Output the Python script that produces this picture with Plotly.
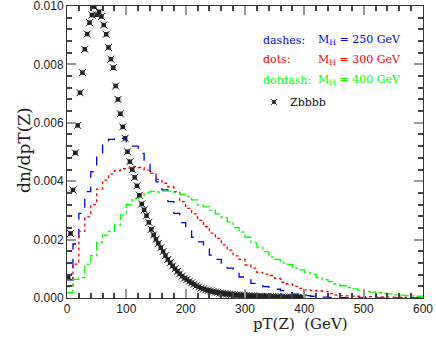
import numpy as np
import plotly.graph_objects as go

# histogram bins (10 GeV) for the Higgs curves, 0..600
hist_edges = np.arange(0, 610, 10)

# dashes: M_H = 250 GeV
mh250 = [0.00062, 0.00185, 0.0029, 0.00364, 0.00432, 0.0049, 0.0053, 0.00543, 0.0055, 0.00547,
         0.00535, 0.0052, 0.00495, 0.00463, 0.00433, 0.00398, 0.0037, 0.0033, 0.0029, 0.00258,
         0.00233, 0.00208, 0.00192, 0.00172, 0.00147, 0.00132, 0.00115, 0.00102, 0.00087, 0.00072,
         0.00062, 0.0005, 0.00043, 0.00039, 0.00037, 0.0003, 0.00025, 0.00018, 0.00013, 0.0001,
         0.00008, 0.00006, 0.00004, 0.00003, 0.00002, 0.00001, 0.00001, 0.0, 0.0, 0.0,
         0.0, 0.0, 0.0, 0.0, 0.0, 0.0, 0.0, 0.0, 0.0, 0.0]

# dots: M_H = 300 GeV
mh300 = [0.00039, 0.00116, 0.00228, 0.00278, 0.0032, 0.00373, 0.00404, 0.00425, 0.00436, 0.00443,
         0.00445, 0.0045, 0.00447, 0.00438, 0.00427, 0.00406, 0.00393, 0.00381, 0.00364, 0.0033,
         0.00307, 0.00288, 0.00266, 0.00244, 0.00222, 0.00204, 0.00182, 0.00164, 0.00144, 0.00132,
         0.00113, 0.00102, 0.00088, 0.00082, 0.00077, 0.00067, 0.00054, 0.00048, 0.0004, 0.00033,
         0.00028, 0.00026, 0.00024, 0.00023, 0.00015, 0.0001, 0.00008, 0.00007, 0.00006, 0.00006,
         0.00005, 0.00005, 0.00004, 0.00004, 0.00003, 0.00003, 0.00003, 0.00002, 0.00002, 0.00002]

# dotdash: M_H = 400 GeV
mh400 = [0.00018, 0.00064, 0.0007, 0.00115, 0.00145, 0.0019, 0.00215, 0.00228, 0.0025, 0.00285,
         0.0032, 0.0034, 0.0035, 0.0036, 0.00365, 0.00363, 0.00366, 0.00366, 0.00362, 0.00355,
         0.00348, 0.00336, 0.00318, 0.00312, 0.00301, 0.00288, 0.00275, 0.00261, 0.00241, 0.00226,
         0.00208, 0.00189, 0.00174, 0.00159, 0.00141, 0.00132, 0.0012, 0.00115, 0.00102, 0.00096,
         0.00088, 0.00082, 0.0007, 0.00063, 0.00056, 0.00048, 0.00042, 0.00036, 0.00031, 0.00027,
         0.00023, 0.0002, 0.00018, 0.00016, 0.00014, 0.00011, 0.0001, 0.00008, 0.00007, 0.00006]

# Zbbbb background, 4 GeV bins 0..400 (plotted at bin centres)
zbbbb_centres = np.arange(2, 400, 4)
zbbbb = [0.00073, 0.00221, 0.0037, 0.00497, 0.00591, 0.00703, 0.00772, 0.00852, 0.00904, 0.00943,
         0.00969, 0.00998, 0.0097, 0.0098, 0.00964, 0.00935, 0.00903, 0.00858, 0.00818, 0.00789,
         0.00726, 0.0068, 0.00631, 0.00586, 0.00547, 0.00501, 0.00467, 0.0044, 0.00413, 0.00384,
         0.00352, 0.00322, 0.00302, 0.00282, 0.00259, 0.00235, 0.00216, 0.00201, 0.00187, 0.00172,
         0.00159, 0.00145, 0.00132, 0.00121, 0.0011, 0.001, 0.00091, 0.00083, 0.00075, 0.00068,
         0.00063, 0.00057, 0.00052, 0.00047, 0.00042, 0.00038, 0.00034, 0.00031, 0.00028, 0.00026,
         0.00024, 0.00022, 0.0002, 0.00019, 0.00017, 0.00016, 0.00015, 0.00014, 0.00013, 0.00012,
         0.00011, 0.0001, 0.0001, 0.00009, 0.00009, 0.00008, 0.00008, 0.00007, 0.00007, 0.00006,
         0.00006, 0.00006, 0.00005, 0.00005, 0.00005, 0.00004, 0.00004, 0.00004, 0.00004, 0.00003,
         0.00003, 0.00003, 0.00003, 0.00003, 0.00002, 0.00002, 0.00002, 0.00002, 0.00002, 0.00002]

x_ticks = [0, 100, 200, 300, 400, 500, 600]
y_ticks = [0.0, 0.002, 0.004, 0.006, 0.008, 0.010]

serif = "DejaVu Serif"
W, H = 436, 345
L, R, T, B = 67, 13, 6, 47


def to_data(x, y):
    # pixel position in the figure -> data coords (for the legend key)
    return (x - L) / (W - L - R) * 600, (H - B - y) / (H - T - B) * 0.010


def to_paper(x, y):
    return (x - L) / (W - L - R), (H - B - y) / (H - T - B)


fig = go.Figure()

# step histograms: repeat last value so the final bin gets drawn
for vals, col, dash in [(mh250, "#0000ff", "dash"),
                        (mh300, "#ff0000", "dot"),
                        (mh400, "#00ff00", "dashdot")]:
    fig.add_trace(go.Scatter(x=hist_edges, y=list(vals) + [vals[-1]], mode="lines",
                             line=dict(color=col, dash=dash, width=1.3, shape="hv"),
                             showlegend=False))

# Zbbbb marker = small filled square with an x over it
key_x, key_y = to_data(274, 102)
for xs, ys, sz in [(zbbbb_centres, zbbbb, 1.0), ([key_x], [key_y], 0.8)]:
    fig.add_trace(go.Scatter(x=xs, y=ys, mode="markers",
                             marker=dict(symbol="square", size=4.5 * sz, color="#222"),
                             showlegend=False))
    fig.add_trace(go.Scatter(x=xs, y=ys, mode="markers",
                             marker=dict(symbol="x-thin-open", size=7 * sz, color="#222",
                                         line=dict(color="#222", width=1)),
                             showlegend=False))

axis_common = dict(ticks="inside", ticklen=9, tickcolor="#999", tickwidth=1.5,
                   showline=True, linecolor="#333", linewidth=1, mirror="allticks",
                   showgrid=False, zeroline=False, automargin=False,
                   ticklabeloverflow="allow",
                   tickfont=dict(family="Liberation Sans", size=12, color="#222"))
fig.update_xaxes(range=[0, 600], tickvals=x_ticks, **axis_common,
                 minor=dict(dtick=20, ticks="inside", ticklen=5, tickcolor="#444"))
fig.update_yaxes(range=[0, 0.010], tickvals=y_ticks, tickformat=".3f", **axis_common,
                 minor=dict(dtick=0.0004, ticks="inside", ticklen=5, tickcolor="#444"))

legend_rows = [("dashes:", "M<sub>H</sub> = 250 GeV", "#0000ff", 40),
               ("dots:", "M<sub>H</sub> = 300 GeV", "#ff0000", 60),
               ("dotdash:", "M<sub>H</sub> = 400 GeV", "#00ff00", 80)]
for lab, val, col, ypix in legend_rows:
    for txt, xpix in [(lab, 261), (val, 316)]:
        xp, yp = to_paper(xpix, ypix)
        fig.add_annotation(x=xp, y=yp, xref="paper", yref="paper", text=txt,
                           showarrow=False, xanchor="left", yanchor="middle",
                           font=dict(family=serif, size=11, color=col))

xp, yp = to_paper(288, 102)
fig.add_annotation(x=xp, y=yp, xref="paper", yref="paper", text="Zbbbb",
                   showarrow=False, xanchor="left", yanchor="middle",
                   font=dict(family=serif, size=11, color="#111"))

xp, yp = to_paper(300, 335)
fig.add_annotation(x=xp, y=yp, xref="paper", yref="paper", text="pT(Z)  (GeV)",
                   showarrow=False, font=dict(family=serif, size=15, color="#222"))
xp, yp = to_paper(12, 150)
fig.add_annotation(x=xp, y=yp, xref="paper", yref="paper", text="dn/dpT(Z)", textangle=-90,
                   showarrow=False, font=dict(family=serif, size=17, color="#222"))

fig.update_layout(width=W, height=H, margin=dict(l=L, r=R, t=T, b=B),
                  plot_bgcolor="white", paper_bgcolor="white")

# drop the browser's default 8px body margin so the figure sits at the window corner
fig.write_html("out.html", config={"displayModeBar": False},
               post_script="document.body.style.margin='0';")
